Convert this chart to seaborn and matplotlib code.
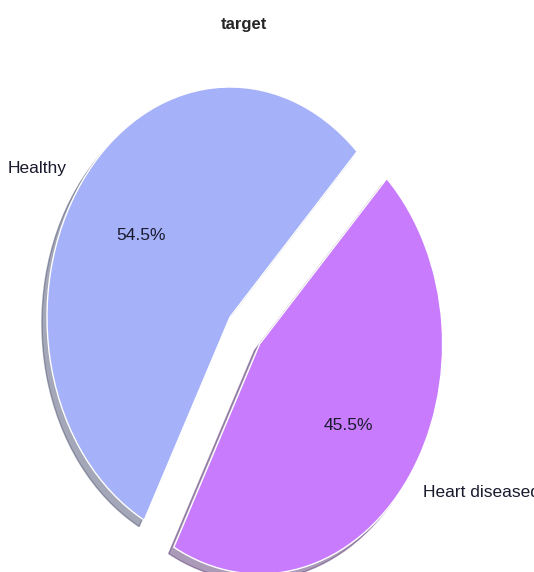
import matplotlib
matplotlib.use("Agg")
import matplotlib.pyplot as plt
import seaborn as sns

# target value counts
labels = ["Healthy", "Heart diseased"]
counts = [165, 138]
colors = ["#a5b1f9", "#c87cfd"]
explode = [0, 0.2]

sns.set_theme(style="white")
plt.rcParams["font.family"] = ["Liberation Sans", "DejaVu Sans"]

fig = plt.figure(figsize=(5.34, 5.72), dpi=100)

# axes placed in pixels so the pie is stretched like the original
W, H = 534, 572
cx, cy, rx, ry = 230, 317, 183, 230
lim = 1.25
ax = fig.add_axes([
    (cx - lim * rx) / W,
    (H - cy - lim * ry) / H,
    2 * lim * rx / W,
    2 * lim * ry / H,
])

ax.pie(
    counts,
    labels=labels,
    colors=colors,
    explode=explode,
    autopct="%1.1f%%",
    shadow={"ox": -0.02, "oy": -0.02, "shade": 0.55},
    startangle=46,
    textprops={"fontsize": 12.5, "color": "#1a1a2e"},
)
ax.set_aspect("auto")
ax.set_xlim(-lim, lim)
ax.set_ylim(-lim, lim)
ax.axis("off")

fig.text(244 / W, 1 - 25 / H, "target", ha="center", va="center",
         fontsize=12, fontweight="bold")

fig.savefig("out.png", dpi=100)
